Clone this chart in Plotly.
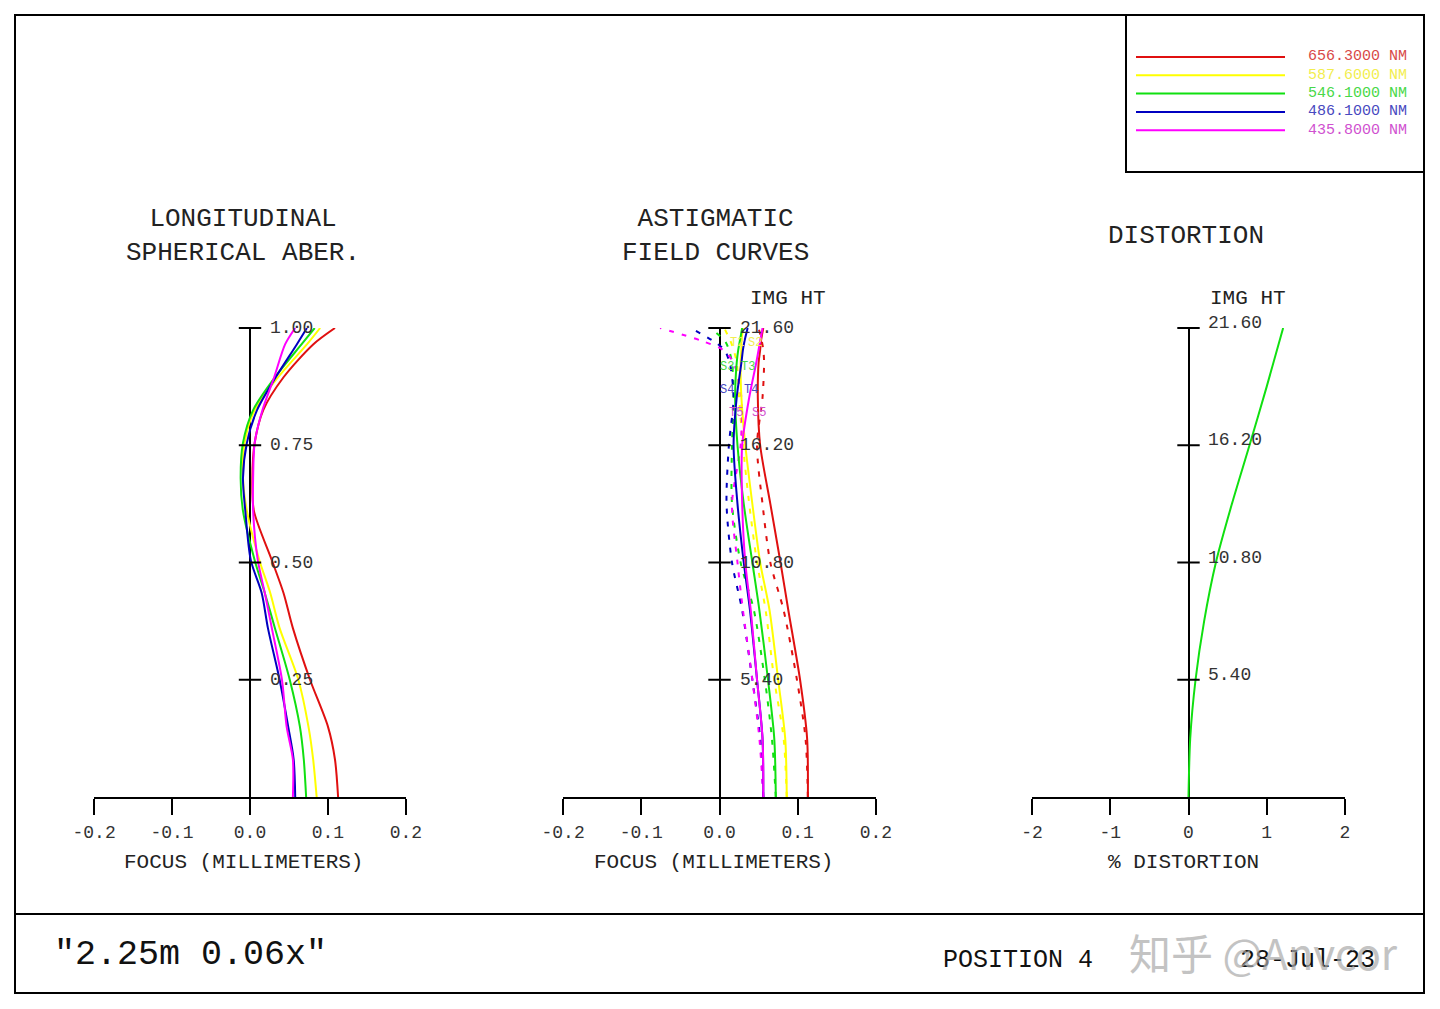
import plotly.graph_objects as go

W, H = 1440, 1009
FONT = "Liberation Mono, Courier New, monospace"

# wavelengths shown in the legend box
wavelengths = ["656.3000", "587.6000", "546.1000", "486.1000", "435.8000"]
line_colors = ["#e01010", "#ffff00", "#10e010", "#0000c0", "#ff00ff"]
text_colors = ["#d84848", "#f2ee50", "#48d848", "#4848c0", "#d050d0"]

# longitudinal spherical aberration: focus (mm) vs relative pupil
pupil = [0, 0.08, 0.15, 0.25, 0.36, 0.435, 0.505, 0.61, 0.68, 0.755, 0.825, 0.895, 0.965, 1.0]
lsa_red = [0.113, 0.109, 0.100, 0.077, 0.055, 0.043, 0.028, 0.005, 0.003, 0.006, 0.017, 0.043, 0.081, 0.109]
lsa_yel = [0.0855, 0.081, 0.075, 0.062, 0.038, 0.026, 0.012, -0.004, -0.009, -0.007, 0.006, 0.036, 0.073, 0.090]
lsa_grn = [0.072, 0.069, 0.064, 0.051, 0.032, 0.019, 0.006, -0.009, -0.012, -0.009, 0.004, 0.032, 0.066, 0.083]
lsa_blu = [0.058, 0.056, 0.049, 0.038, 0.023, 0.015, 0.001, -0.006, -0.009, -0.004, 0.009, 0.033, 0.060, 0.073]
lsa_mag = [0.055, 0.055, 0.047, 0.041, 0.028, 0.019, 0.010, 0.004, 0.004, 0.006, 0.016, 0.031, 0.045, 0.058]
lsa_ticks = [0.25, 0.5, 0.75, 1.0]
lsa_ticktext = ["0.25", "0.50", "0.75", "1.00"]

# astigmatic field curves: focus (mm) vs image height (mm)
field_ht = [0, 2.7, 5.4, 8.6, 10.8, 13.5, 16.2, 18.4, 20.0, 20.6, 21.0, 21.6]
sag_red = [0.113, 0.112, 0.103, 0.088, 0.078, 0.065, 0.052, 0.049, 0.050, 0.052, 0.053, 0.056]
sag_yel = [0.086, 0.084, 0.075, 0.064, 0.052, 0.042, 0.033, 0.028, 0.027, 0.028, 0.028, 0.030]
sag_grn = [0.072, 0.070, 0.062, 0.051, 0.042, 0.031, 0.023, 0.020, 0.022, 0.024, 0.026, 0.029]
sag_blu = [0.056, 0.055, 0.048, 0.039, 0.031, 0.023, 0.018, 0.022, 0.028, 0.030, 0.032, 0.036]
sag_mag = [0.056, 0.055, 0.048, 0.040, 0.033, 0.029, 0.029, 0.038, 0.047, 0.050, 0.052, 0.055]
tan_red = [0.113, 0.110, 0.099, 0.082, 0.065, 0.055, 0.048, 0.055, 0.057, 0.056, 0.054, 0.050]
tan_yel = [0.086, 0.082, 0.070, 0.059, 0.048, 0.038, 0.030, 0.025, 0.022, 0.018, 0.014, 0.006]
tan_grn = [0.072, 0.067, 0.058, 0.044, 0.027, 0.016, 0.016, 0.018, 0.016, 0.012, 0.007, -0.012]
tan_blu = [0.056, 0.052, 0.042, 0.029, 0.016, 0.009, 0.012, 0.018, 0.013, 0.006, -0.008, -0.037]
tan_mag = [0.056, 0.051, 0.042, 0.030, 0.023, 0.016, 0.027, 0.028, 0.018, 0.004, -0.022, -0.076]
ht_ticks = [5.4, 10.8, 16.2, 21.6]
ht_ticktext = ["5.40", "10.80", "16.20", "21.60"]

# S/T curve labels near the top of the field curves
st_labels = ["T1", "S1", "T2", "S2", "S3", "T3", "S4", "T4", "T5", "S5"]
st_label_x = [0.023, 0.069, 0.023, 0.046, 0.010, 0.037, 0.010, 0.040, 0.021, 0.050]
st_label_h = [22.05, 22.05, 20.9, 20.9, 19.8, 19.8, 18.75, 18.75, 17.7, 17.7]
st_label_c = [0, 0, 1, 1, 2, 2, 3, 3, 4, 4]

# distortion (%) vs image height, for 546.1 nm
dist_ht = [0, 2.7, 5.4, 8.1, 10.8, 13.5, 16.2, 18.9, 21.6]
dist_pct = [0, 0.022, 0.09, 0.2, 0.35, 0.555, 0.78, 1.0, 1.21]

focus_ticks = [-0.2, -0.1, 0.0, 0.1, 0.2]
focus_ticktext = ["-0.2", "-0.1", "0.0", "0.1", "0.2"]
dist_ticks = [-2, -1, 0, 1, 2]
dist_ticktext = ["-2", "-1", "0", "1", "2"]


def px(x):
    return x / W


def py(y):
    return 1 - y / H


fig = go.Figure()

lsa = [lsa_red, lsa_yel, lsa_grn, lsa_blu, lsa_mag]
for i, vals in enumerate(lsa):
    fig.add_trace(go.Scatter(x=vals, y=pupil, mode="lines", xaxis="x", yaxis="y",
                             line=dict(color=line_colors[i], width=2, shape="spline", smoothing=0.8)))

tans = [tan_red, tan_yel, tan_grn, tan_blu, tan_mag]
sags = [sag_red, sag_yel, sag_grn, sag_blu, sag_mag]
for i, vals in enumerate(tans):
    fig.add_trace(go.Scatter(x=vals, y=field_ht, mode="lines", xaxis="x2", yaxis="y2",
                             line=dict(color=line_colors[i], width=2, dash="5px,8px",
                                       shape="spline", smoothing=0.8)))
for i, vals in enumerate(sags):
    fig.add_trace(go.Scatter(x=vals, y=field_ht, mode="lines", xaxis="x2", yaxis="y2",
                             line=dict(color=line_colors[i], width=2, shape="spline", smoothing=0.8)))

fig.add_trace(go.Scatter(x=dist_pct, y=dist_ht, mode="lines", xaxis="x3", yaxis="y3",
                         line=dict(color=line_colors[2], width=2, shape="spline", smoothing=0.8)))

# cross ticks on the vertical axes
tick_mark = dict(symbol="line-ew", size=16, line=dict(color="black", width=2))
fig.add_trace(go.Scatter(x=[0] * 4, y=lsa_ticks, mode="markers", xaxis="x", yaxis="y",
                         marker=tick_mark, cliponaxis=False))
fig.add_trace(go.Scatter(x=[0] * 4, y=ht_ticks, mode="markers", xaxis="x2", yaxis="y2",
                         marker=tick_mark, cliponaxis=False))
fig.add_trace(go.Scatter(x=[0] * 4, y=ht_ticks, mode="markers", xaxis="x3", yaxis="y3",
                         marker=tick_mark, cliponaxis=False))

ydom = [py(797), py(328)]


def xax(dom, rng, vals, text):
    return dict(domain=dom, range=rng, tickmode="array", tickvals=vals, ticktext=text,
                showline=True, linecolor="black", linewidth=2, ticks="outside", ticklen=16,
                tickwidth=2, tickcolor="black", showgrid=False, zeroline=True,
                zerolinecolor="black", zerolinewidth=2, ticklabelstandoff=1, automargin=False,
                tickfont=dict(family=FONT, size=18, color="#333"), fixedrange=True)


fig.update_layout(
    width=W, height=H, margin=dict(l=0, r=0, t=0, b=0, autoexpand=False),
    paper_bgcolor="white", plot_bgcolor="white", showlegend=False,
    xaxis=xax([px(94), px(406)], [-0.2001, 0.2001], focus_ticks, focus_ticktext),
    xaxis2=dict(xax([px(563), px(876)], [-0.2001, 0.2001], focus_ticks, focus_ticktext), anchor="y2"),
    xaxis3=dict(xax([px(1032), px(1345)], [-2.001, 2.001], dist_ticks, dist_ticktext), anchor="y3"),
    yaxis=dict(domain=ydom, range=[0, 1.0], visible=False, anchor="x", automargin=False),
    yaxis2=dict(domain=ydom, range=[0, 21.6], visible=False, anchor="x2", automargin=False),
    yaxis3=dict(domain=ydom, range=[0, 21.6], visible=False, anchor="x3", automargin=False),
)

ann = []


def text(x, y, s, size, color="#222", xanchor="center", family=FONT, opacity=1.0):
    ann.append(dict(x=px(x), y=py(y), xref="paper", yref="paper", text=s, showarrow=False,
                    xanchor=xanchor, yanchor="middle", opacity=opacity,
                    font=dict(family=family, size=size, color=color)))


# titles
text(243, 236, "LONGITUDINAL<br>SPHERICAL ABER.", 26)
text(715, 236, "ASTIGMATIC<br>FIELD CURVES", 26)
text(1186, 236, "DISTORTION", 26)
text(788, 298, "IMG HT", 21)
text(1248, 298, "IMG HT", 21)

# axis titles
text(243, 862, "FOCUS (MILLIMETERS)", 21)
text(713, 862, "FOCUS (MILLIMETERS)", 21)
text(1183, 862, "% DISTORTION", 21)

# vertical tick labels
for v, t in zip(lsa_ticks, lsa_ticktext):
    ann.append(dict(x=0, y=v, xref="x", yref="y", text=t, showarrow=False, xanchor="left",
                    xshift=18, font=dict(family=FONT, size=18, color="#333")))
for v, t in zip(ht_ticks, ht_ticktext):
    ann.append(dict(x=0, y=v, xref="x2", yref="y2", text=t, showarrow=False, xanchor="left",
                    xshift=18, font=dict(family=FONT, size=18, color="#333")))
    ann.append(dict(x=0, y=v, xref="x3", yref="y3", text=t, showarrow=False, xanchor="left",
                    xshift=17, yshift=5, font=dict(family=FONT, size=18, color="#333")))

# S/T labels
for s, x, h, c in zip(st_labels, st_label_x, st_label_h, st_label_c):
    ann.append(dict(x=x, y=h, xref="x2", yref="y2", text=s, showarrow=False,
                    font=dict(family=FONT, size=12, color=text_colors[c])))

# legend box
shapes = [
    dict(type="rect", xref="paper", yref="paper", x0=px(15), x1=px(1424), y0=py(993), y1=py(15),
         line=dict(color="black", width=2)),
    dict(type="line", xref="paper", yref="paper", x0=px(15), x1=px(1424), y0=py(914), y1=py(914),
         line=dict(color="black", width=2)),
    dict(type="rect", xref="paper", yref="paper", x0=px(1126), x1=px(1424), y0=py(172), y1=py(15),
         line=dict(color="black", width=2)),
]
for i, wl in enumerate(wavelengths):
    yy = 57 + i * 18.3
    shapes.append(dict(type="line", xref="paper", yref="paper", x0=px(1136), x1=px(1285),
                       y0=py(yy), y1=py(yy), line=dict(color=line_colors[i], width=2)))
    text(1409, yy, wl + " NM", 15, color=text_colors[i], xanchor="right")

# footer
text(52, 955, '"2.25m 0.06x"', 35, color="#111", xanchor="left")
text(941, 960, "POSITION 4", 25, color="#111", xanchor="left")
text(1238, 960, "28-Jul-23", 25, color="#111", xanchor="left")
text(1127, 951, "知乎 @Anvcor", 42, color="#aaaaaa", xanchor="left",
     family="Noto Sans CJK SC", opacity=0.7)

fig.update_layout(annotations=ann, shapes=shapes)

fig.write_html("out.html", config={"displayModeBar": False},
               post_script="document.body.style.margin='0';document.body.style.overflow='hidden';")
